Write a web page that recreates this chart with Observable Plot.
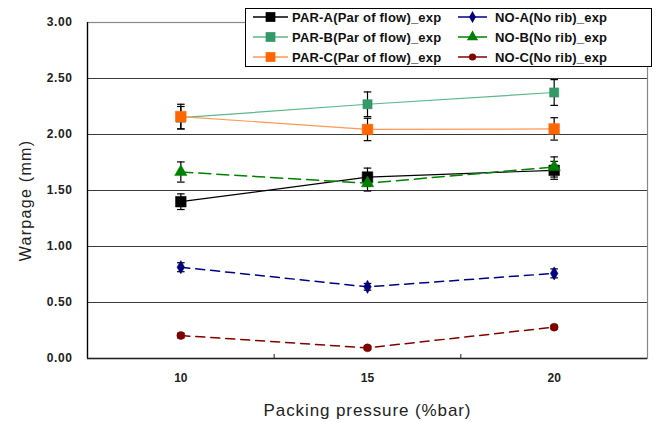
<!DOCTYPE html>
<html><head><meta charset="utf-8">
<script src="https://cdn.jsdelivr.net/npm/d3@7"></script>
<script src="https://cdn.jsdelivr.net/npm/@observablehq/plot@0.6"></script>
<style>
body{margin:0;background:#fff;font-family:Arial,"Liberation Sans",sans-serif;}
#wrap{position:relative;width:656px;height:422px;}
#legend{position:absolute;left:245px;top:8px;}
</style></head><body><div id="wrap"></div>
<script>
// ---- data ----
const pressure = [10, 15, 20];
const yTicks = [0, 0.5, 1, 1.5, 2, 2.5, 3];
const boundaryTicks = [12.5, 17.5];

const seriesNames = ["PAR-A(Par of flow)_exp", "PAR-B(Par of flow)_exp", "PAR-C(Par of flow)_exp",
                     "NO-A(No rib)_exp", "NO-B(No rib)_exp", "NO-C(No rib)_exp"];
const parA = [1.40, 1.62, 1.68];
const parB = [2.15, 2.27, 2.375];
const parC = [2.16, 2.045, 2.05];
const noA  = [0.815, 0.64, 0.76];
const noB  = [1.665, 1.565, 1.71];
const noC  = [0.205, 0.095, 0.28];

const parAErr = [0.07, 0.08, 0.08];
const parBErr = [0.10, 0.11, 0.115];
const parCErr = [0.11, 0.10, 0.10];
const noAErr  = [0.04, 0.03, 0.04];
const noBErr  = [0.09, 0.07, 0.09];
const noCErr  = [0.02, 0.015, 0.015];

// ---- styles ----
const styles = [
  {line: "#000000", marker: "#000000", symbol: "square",   r: 6,   dash: null,   width: 1.2},
  {line: "#5cb88a", marker: "#339966", symbol: "square",   r: 5.2, dash: null,   width: 1.2},
  {line: "#ff9955", marker: "#ff6600", symbol: "square",   r: 6,   dash: null,   width: 1.2},
  {line: "#000080", marker: "#000080", symbol: "diamond",  r: 4,   dash: "9,6",  width: 1.5},
  {line: "#008000", marker: "#008000", symbol: "triangle", r: 4.6, dash: "12,6", width: 1.5},
  {line: "#800000", marker: "#800000", symbol: "circle",   r: 4,   dash: "9,6",  width: 1.5}
];
const values = [parA, parB, parC, noA, noB, noC];
const errs = [parAErr, parBErr, parCErr, noAErr, noBErr, noCErr];

const rows = [];
seriesNames.forEach((s, k) => pressure.forEach((x, i) =>
  rows.push({series: s, k, x, y: values[k][i], e: errs[k][i]})));

const capSymbol = {draw(ctx) { ctx.moveTo(-3.8, 0); ctx.lineTo(3.8, 0); }};

const marks = [
  Plot.ruleY(yTicks, {stroke: "#3a3a3a", strokeWidth: 1.2}),
  Plot.frame({stroke: "#888", strokeWidth: 1.2}),
  Plot.ruleX([7.5], {stroke: "#000", strokeWidth: 1.3}),
  Plot.ruleY([0], {stroke: "#222", strokeWidth: 1.3}),
  Plot.axisX({ticks: boundaryTicks, tickFormat: () => "", tickSize: -4, stroke: "#222", label: null}),
  Plot.axisX({ticks: pressure, tickFormat: d3.format("d"), tickSize: 0, tickPadding: 15,
              fontSize: 12, fontWeight: "bold", fill: "#222", label: null}),
  Plot.axisY({ticks: yTicks, tickFormat: d3.format(".2f"), tickSize: 0, tickPadding: 15,
              fontSize: 12, fontWeight: "bold", fill: "#222", label: null}),
  Plot.ruleX(rows, {x: "x", y1: d => d.y - d.e, y2: d => d.y + d.e, stroke: "#000", strokeWidth: 1.2}),
  Plot.dot(rows, {x: "x", y: d => d.y - d.e, symbol: capSymbol, stroke: "#000", strokeWidth: 1.2}),
  Plot.dot(rows, {x: "x", y: d => d.y + d.e, symbol: capSymbol, stroke: "#000", strokeWidth: 1.2}),
];
seriesNames.forEach((s, k) => {
  const st = styles[k];
  const data = rows.filter(d => d.k === k);
  marks.push(Plot.line(data, {x: "x", y: "y", stroke: st.line, strokeWidth: st.width,
                              strokeDasharray: st.dash}));
  marks.push(Plot.dot(data, {x: "x", y: "y", symbol: st.symbol, r: st.r, fill: st.marker,
                             stroke: st.marker, strokeWidth: 0.5}));
});
marks.push(Plot.text(["Warpage (mm)"], {text: d => d, frameAnchor: "left", rotate: -90, dx: -62, dy: 10,
                     textAnchor: "middle", lineAnchor: "middle", fontSize: 16, fill: "#222"}));
marks.push(Plot.text(["Packing pressure (%bar)"], {text: d => d, frameAnchor: "bottom", dy: 52,
                     textAnchor: "middle", lineAnchor: "middle", fontSize: 17, fill: "#222"}));

const chart = Plot.plot({
  width: 656, height: 422,
  marginLeft: 87, marginRight: 9, marginTop: 22, marginBottom: 64,
  style: {fontFamily: "Arial, 'Liberation Sans', sans-serif", background: "#fff", overflow: "visible"},
  x: {domain: [7.5, 22.5], axis: null},
  y: {domain: [0, 3], axis: null},
  marks
});
const wrap = document.getElementById("wrap");
wrap.appendChild(chart);
chart.querySelectorAll("text").forEach(t => {
  if (t.textContent === "Packing pressure (%bar)") t.setAttribute("letter-spacing", "0.9");
  if (t.textContent === "Warpage (mm)") t.setAttribute("letter-spacing", "1.3");
  if (/^\d\.\d\d$/.test(t.textContent)) t.setAttribute("letter-spacing", "0.6");
});

// ---- legend ----
const W = 407, H = 59;
const leg = d3.select(wrap).append("svg").attr("id", "legend").attr("width", W).attr("height", H);
leg.append("rect").attr("x", 0.5).attr("y", 0.5).attr("width", W - 1).attr("height", H - 1)
   .attr("fill", "#fff").attr("stroke", "#000");
const sym = {square: d3.symbolSquare, diamond: d3.symbolDiamond, triangle: d3.symbolTriangle, circle: d3.symbolCircle};
seriesNames.forEach((s, k) => {
  const st = styles[k];
  const col = k < 3 ? 0 : 1, row = k % 3;
  const x0 = col === 0 ? 8 : 213, x1 = col === 0 ? 43 : 242;
  const y = 9 + row * 20;
  const g = leg.append("g");
  g.append("line").attr("x1", x0).attr("x2", x1).attr("y1", y).attr("y2", y)
    .attr("stroke", st.line).attr("stroke-width", 1.5);
  const r = st.symbol === "square" ? 5.5 : st.r * 0.9;
  g.append("path").attr("transform", `translate(${(x0 + x1) / 2},${y})`)
    .attr("d", d3.symbol(sym[st.symbol], Math.PI * r * r)()).attr("fill", st.marker);
  g.append("text").attr("x", col === 0 ? 47 : 250).attr("y", y).attr("dy", "0.36em")
    .attr("font-size", 13).attr("font-weight", "bold").attr("fill", "#111")
    .attr("letter-spacing", col === 0 ? 0.2 : 0.2)
    .text(s);
});
</script></body></html>
